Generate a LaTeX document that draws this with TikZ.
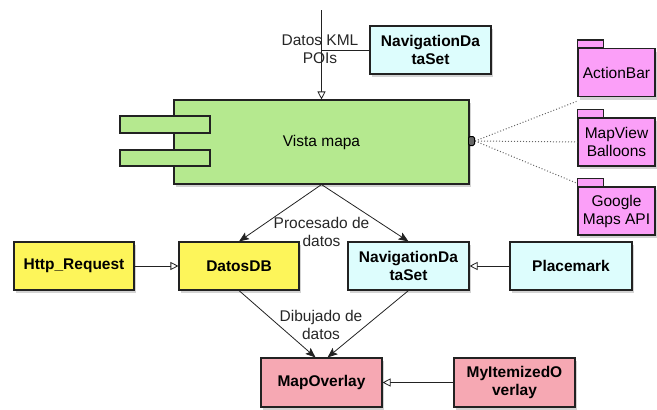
\documentclass[tikz,border=0pt]{standalone}
\usepackage{fontspec}
\setmainfont{Liberation Sans}
\usetikzlibrary{arrows.meta,shadows}
\definecolor{greenbox}{HTML}{B5E98F}
\definecolor{yellowbox}{HTML}{FDF55A}
\definecolor{cyanbox}{HTML}{DDFDFD}
\definecolor{pkgpink}{HTML}{FB9FF8}
\definecolor{rosebox}{HTML}{F6A8B3}
\definecolor{edgecol}{HTML}{222222}
\tikzset{
  x=1pt,y=-1pt,
  every node/.style={font=\fontsize{15.5}{18}\selectfont},
  shad/.style={drop shadow={shadow xshift=2pt,shadow yshift=-3pt,opacity=0.35}},
  cls/.style={draw=edgecol,line width=1.1pt,shad,align=center,inner sep=0pt,font=\fontsize{15.5}{18}\selectfont\bfseries},
  ybox/.style={cls,fill=yellowbox,minimum width=120pt,minimum height=48pt},
  cbox/.style={cls,fill=cyanbox,minimum width=121pt,minimum height=48pt},
  rbox/.style={cls,fill=rosebox,minimum width=121pt,minimum height=49pt},
  pkg/.style={draw=edgecol,line width=1.1pt,shad,fill=pkgpink,align=center,inner sep=0pt,minimum width=77pt,minimum height=48pt},
  tab/.style={draw=edgecol,line width=1.1pt,fill=pkgpink},
  gen/.style={draw=edgecol,line width=0.8pt,-{Triangle[open,length=8pt,width=8pt,fill=white]}},
  dep/.style={draw=edgecol,line width=0.8pt,-{Stealth[length=10pt,width=8pt,inset=2pt]}},
  lbl/.style={align=center,inner sep=0pt,text=black!85}
}
\begin{document}
\begin{tikzpicture}
\useasboundingbox (0,0) rectangle (657,410);
% top box
\node[cbox] (navtop) at (430.5,50) {NavigationDa\\taSet};
% main component
\node[draw=edgecol,line width=1.1pt,fill=greenbox,shad,minimum width=295pt,minimum height=84pt,inner sep=0pt] (vista) at (321.5,142) {Vista mapa};
\node[draw=edgecol,line width=1.1pt,fill=greenbox,minimum width=90pt,minimum height=17pt,inner sep=0pt] (r1) at (165,124.5) {};
\node[draw=edgecol,line width=1.1pt,fill=greenbox,minimum width=90pt,minimum height=16pt,inner sep=0pt] (r2) at (165,158) {};
% port
\node[draw=black,fill=black!60,line width=1pt,rounded corners=1.5pt,minimum width=6pt,minimum height=9pt,inner sep=0pt] (port) at (471.5,141) {};
% packages
\node[pkg] (ab) at (616.5,72.5) {ActionBar};
\draw[tab] (ab.north west) rectangle ++(26,-8);
\node[pkg] (mv) at (616.5,142) {MapView\\Balloons};
\draw[tab] (mv.north west) rectangle ++(26,-8);
\node[pkg] (gm) at (616.5,211) {Google\\Maps API};
\draw[tab] (gm.north west) rectangle ++(26,-8);
% middle row
\node[ybox] (http) at (74,266) {Http\_Request};
\node[ybox] (datos) at (239,266) {DatosDB};
\node[cbox] (nav) at (408.5,266) {NavigationDa\\taSet};
\node[cbox,minimum width=122pt] (place) at (571,266) {Placemark};
% bottom row
\node[rbox] (mo) at (321.5,382.5) {MapOverlay};
\node[rbox] (mio) at (514.5,382.5) {MyItemizedO\\verlay};
% top input
\coordinate (topstart) at (321.5,10);
\coordinate (junc) at (321.5,50);
\draw[gen] (topstart) -- (vista.north);
\draw[draw=edgecol,line width=0.8pt] (junc) -- (navtop.west);
\node[lbl] (lkml) at (320,49) {Datos KML\\POIs};
% dotted
\draw[dotted,line width=1pt,draw=black!60] (port.east) -- ([yshift=-4pt]ab.south west);
\draw[dotted,line width=1pt,draw=black!60] (port.east) -- (mv.west);
\draw[dotted,line width=1pt,draw=black!60] (port.east) -- ([yshift=3pt]gm.north west);
% flows
\draw[dep] (vista.south) -- (datos.north);
\draw[dep] (vista.south) -- (nav.north);
\node[lbl] (lproc) at (321.5,232) {Procesado de\\datos};
\draw[dep] (datos.south) -- ([xshift=-6pt]mo.north);
\draw[dep] (nav.south) -- ([xshift=6pt]mo.north);
\node[lbl] (ldib) at (321,325) {Dibujado de\\datos};
% generalizations
\draw[gen] (http) -- (datos);
\draw[gen] (place) -- (nav);
\draw[gen] (mio) -- (mo);
\end{tikzpicture}
\end{document}
